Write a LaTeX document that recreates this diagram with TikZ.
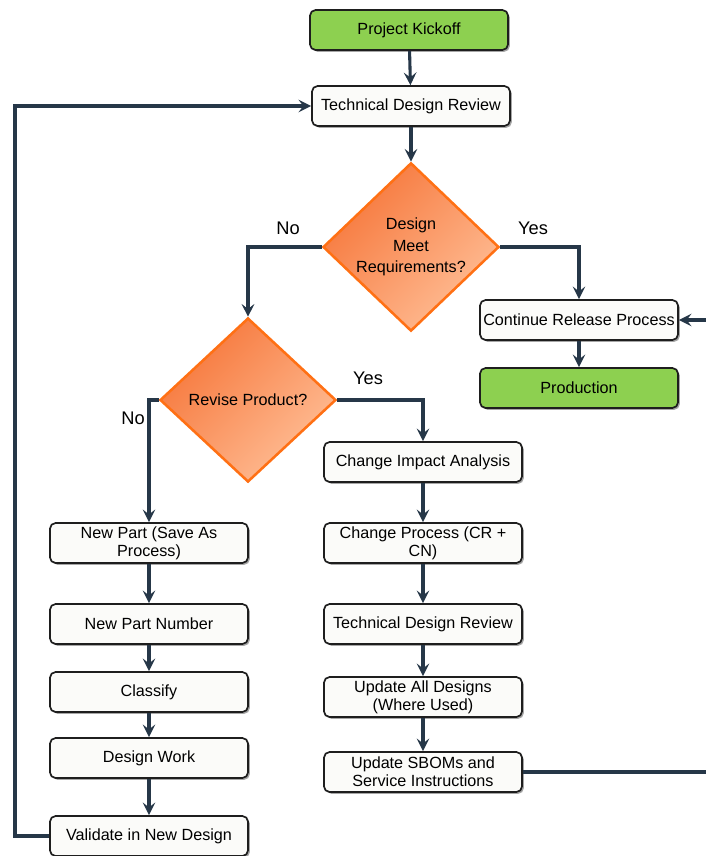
\documentclass[tikz,border=0pt]{standalone}
\usepackage{fontspec}
\setmainfont{Liberation Sans}
\usetikzlibrary{arrows.meta,shapes.geometric,shadows}

\definecolor{linecol}{RGB}{38,55,72}
\definecolor{boxfill}{RGB}{251,251,249}
\definecolor{boxedge}{RGB}{30,30,30}
\definecolor{startgreen}{RGB}{141,208,80}
\definecolor{decedge}{RGB}{255,112,20}
\definecolor{decdark}{RGB}{246,118,58}
\definecolor{declight}{RGB}{255,190,150}

\tikzset{
  stepbox/.style={draw=boxedge, line width=1.2pt, rounded corners=4pt,
    fill=boxfill, minimum width=4.95cm, minimum height=1cm,
    align=center, inner sep=1pt,
    font=\fontsize{11.5}{12.8}\selectfont,
    drop shadow={shadow xshift=1.3pt, shadow yshift=-1.3pt, fill=black, opacity=0.35}},
  greenbox/.style={stepbox, fill=startgreen},
  decision/.style={diamond, draw=decedge, line width=1.8pt, inner sep=0pt,
    minimum width=4.4cm, minimum height=4.1cm, align=center,
    font=\fontsize{11.5}{15.5}\selectfont,
    shading=axis, top color=decdark, bottom color=declight, shading angle=45},
  conn/.style={draw=linecol, line width=2.2pt, -{Stealth[length=9pt,width=9pt,inset=3.5pt]}},
  lbl/.style={font=\fontsize{13}{14}\selectfont, inner sep=0pt}
}

\begin{document}
\begin{tikzpicture}[x=0.025cm, y=-0.025cm]
\useasboundingbox (0,0) rectangle (705,856);

% main trunk
\node[greenbox] (kick) at (409,30) {Project Kickoff};
\node[stepbox] (tdr) at (411,106) {Technical Design Review};
\node[decision] (dmr) at (411,247) {Design\\Meet\\Requirements?};
\node[stepbox] (crp) at (579,320) {Continue Release Process};
\node[greenbox] (prod) at (579,388) {Production};
\node[decision] (rev) at (248,400) {Revise Product?};

% new part branch
\node[stepbox] (np) at (149,543) {New Part (Save As\\Process)};
\node[stepbox] (pn) at (149,624) {New Part Number};
\node[stepbox] (cls) at (149,692) {Classify};
\node[stepbox] (dw) at (149,758) {Design Work};
\node[stepbox] (val) at (149,836) {Validate in New Design};

% revision branch
\node[stepbox] (cia) at (423,462) {Change Impact Analysis};
\node[stepbox] (cp) at (423,543) {Change Process (CR +\\CN)};
\node[stepbox] (tdr2) at (423,624) {Technical Design Review};
\node[stepbox] (uad) at (423,697) {Update All Designs\\(Where Used)};
\node[stepbox] (sbom) at (423,772) {Update SBOMs and\\Service Instructions};

% loop-back rails
\coordinate (lrail) at (15,0);
\coordinate (rrail) at (712,0);

% connectors
\draw[conn] (kick) -- (tdr);
\draw[conn] (tdr) -- (dmr);
\draw[conn] (dmr.west) -| (rev.north);
\draw[conn] (dmr.east) -| (crp.north);
\draw[conn] (crp) -- (prod);
\draw[conn] (rev.west) -| (np.north);
\draw[conn] (rev.east) -| (cia.north);
\draw[conn] (np) -- (pn);
\draw[conn] (pn) -- (cls);
\draw[conn] (cls) -- (dw);
\draw[conn] (dw) -- (val);
\draw[conn] (cia) -- (cp);
\draw[conn] (cp) -- (tdr2);
\draw[conn] (tdr2) -- (uad);
\draw[conn] (uad) -- (sbom);
\draw[conn] (val.west) -- (val.west -| lrail) |- (tdr.west);
\draw[conn] (sbom.east) -- (sbom.east -| rrail) |- (crp.east);

% branch labels
\node[lbl] (no1) at (288,228) {No};
\node[lbl] (yes1) at (533,228) {Yes};
\node[lbl] (no2) at (133,418) {No};
\node[lbl] (yes2) at (368,378) {Yes};
\end{tikzpicture}
\end{document}
